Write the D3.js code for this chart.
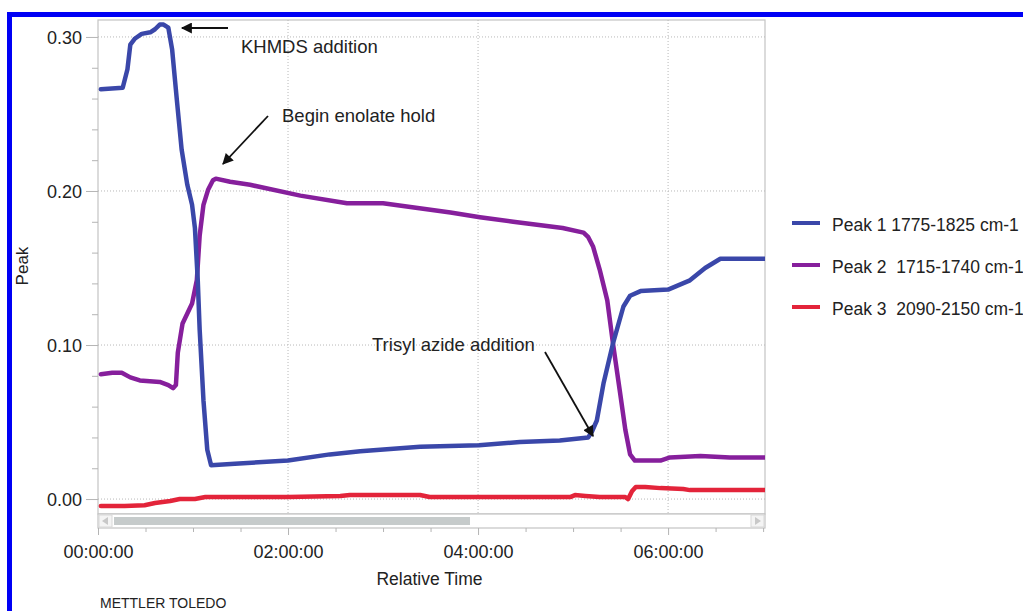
<!DOCTYPE html>
<html>
<head>
<meta charset="utf-8">
<script src="https://cdn.jsdelivr.net/npm/d3@7"></script>
<style>
  body { margin: 0; background: #fff; }
  text { font-family: "Liberation Sans", Arial, sans-serif; fill: #222; }
</style>
</head>
<body>
<div id="chart"></div>
<script>
// Reaction profile values (time in hours, peak height)
var peak1Time = [0.03, 0.26, 0.31, 0.34, 0.39, 0.46, 0.55, 0.60, 0.65, 0.69, 0.74, 0.78, 0.83, 0.88, 0.94, 0.99, 1.02, 1.05, 1.07, 1.11, 1.15, 1.19, 1.44, 2.00, 2.44, 2.76, 3.39, 4.01, 4.44, 4.86, 5.16, 5.20, 5.25, 5.32, 5.42, 5.53, 5.60, 5.71, 6.00, 6.23, 6.39, 6.55, 6.76, 7.02];
var peak1Value = [0.266, 0.267, 0.279, 0.295, 0.299, 0.302, 0.303, 0.305, 0.308, 0.308, 0.306, 0.292, 0.259, 0.227, 0.204, 0.191, 0.176, 0.142, 0.110, 0.064, 0.032, 0.022, 0.023, 0.025, 0.029, 0.031, 0.034, 0.035, 0.037, 0.038, 0.040, 0.044, 0.051, 0.075, 0.101, 0.125, 0.132, 0.135, 0.136, 0.142, 0.150, 0.156, 0.156, 0.156];

var peak2Time = [0.03, 0.15, 0.25, 0.34, 0.44, 0.65, 0.74, 0.79, 0.82, 0.84, 0.89, 0.99, 1.04, 1.07, 1.11, 1.16, 1.21, 1.24, 1.39, 1.60, 2.13, 2.62, 3.00, 3.71, 4.02, 4.37, 4.89, 5.11, 5.16, 5.21, 5.28, 5.36, 5.42, 5.49, 5.55, 5.60, 5.65, 5.92, 6.02, 6.34, 6.65, 7.02];
var peak2Value = [0.081, 0.082, 0.082, 0.079, 0.077, 0.076, 0.074, 0.072, 0.074, 0.095, 0.114, 0.127, 0.142, 0.171, 0.191, 0.201, 0.207, 0.208, 0.206, 0.204, 0.197, 0.192, 0.192, 0.186, 0.183, 0.180, 0.176, 0.173, 0.170, 0.164, 0.149, 0.129, 0.101, 0.071, 0.045, 0.029, 0.025, 0.025, 0.027, 0.028, 0.027, 0.027];

var peak3Time = [0.03, 0.28, 0.49, 0.60, 0.76, 0.86, 1.02, 1.13, 2.00, 2.55, 2.65, 3.39, 3.49, 4.01, 4.97, 5.02, 5.13, 5.28, 5.55, 5.58, 5.62, 5.66, 5.76, 5.92, 6.16, 6.23, 7.02];
var peak3Value = [-0.0045, -0.0045, -0.004, -0.0026, -0.0013, 0.0, 0.0, 0.0013, 0.0013, 0.002, 0.0026, 0.0026, 0.0013, 0.0013, 0.0013, 0.0026, 0.002, 0.0013, 0.0013, 0.0, 0.005, 0.0078, 0.0078, 0.0071, 0.0065, 0.0058, 0.0058];

var seriesNames = ["Peak 1 1775-1825 cm-1", "Peak 2  1715-1740 cm-1", "Peak 3  2090-2150 cm-1"];
var seriesColors = ["#3a47a9", "#861f9c", "#e3243a"];

var yMajorTicks = [0.00, 0.10, 0.20, 0.30];
var xMajorTicks = [0, 2, 4, 6];
var xTickLabels = ["00:00:00", "02:00:00", "04:00:00", "06:00:00"];

var noteLabels = ["KHMDS addition", "Begin enolate hold", "Trisyl azide addition"];


///////////  SVG  ///////////
var svgWidth = 1023;
var svgHeight = 611;

var plot = { left: 98, right: 765, top: 20, bottom: 514 };

var SVG = d3.select("#chart").append("svg")
    .attr("width", svgWidth)
    .attr("height", svgHeight);

// Scales
var xScale = d3.scaleLinear().domain([0, 7.02]).range([plot.left, plot.right]);
var yScale = d3.scaleLinear().domain([-0.0097, 0.311]).range([plot.bottom, plot.top]);

// Plot background + frame
SVG.append("rect")
    .attr("x", plot.left).attr("y", plot.top)
    .attr("width", plot.right - plot.left).attr("height", plot.bottom - plot.top)
    .attr("fill", "#fff").attr("stroke", "#c4c4c4").attr("stroke-width", 1.2);

// Gridlines (dotted)
SVG.append("g").selectAll("line").data(yMajorTicks).enter().append("line")
    .attr("x1", plot.left).attr("x2", plot.right)
    .attr("y1", d => yScale(d)).attr("y2", d => yScale(d))
    .attr("stroke", "#b8b8b8").attr("stroke-dasharray", "1,2");

SVG.append("g").selectAll("line").data(xMajorTicks.slice(1)).enter().append("line")
    .attr("x1", d => xScale(d)).attr("x2", d => xScale(d))
    .attr("y1", plot.top).attr("y2", plot.bottom)
    .attr("stroke", "#b8b8b8").attr("stroke-dasharray", "1,2");

// Y axis: major + minor ticks
var yMinor = d3.range(0.0, 0.311, 0.02).filter(v => Math.abs(v * 10 - Math.round(v * 10)) > 0.01);
var yAxisMinor = SVG.append("g").attr("transform", `translate(${plot.left}, 0)`)
    .call(d3.axisLeft(yScale).tickValues(yMinor).tickSize(6).tickFormat(""));
var yAxis = SVG.append("g").attr("transform", `translate(${plot.left}, 0)`)
    .call(d3.axisLeft(yScale).tickValues(yMajorTicks).tickSize(12).tickPadding(4).tickFormat(d3.format(".2f")));

[yAxis, yAxisMinor].forEach(function(ax) {
    ax.select(".domain").remove();
    ax.selectAll("line").attr("stroke", "#b4b4b4");
});
yAxis.selectAll("text").attr("font-size", 18).attr("fill", "#222")
    .attr("dy", "0.36em").style("font-family", "Liberation Sans, Arial");

// Scroll bar under the plot
var sbTop = 514, sbBottom = 528;
SVG.append("rect").attr("x", plot.left).attr("y", sbTop)
    .attr("width", plot.right - plot.left).attr("height", sbBottom - sbTop)
    .attr("fill", "#fff").attr("stroke", "#c4c4c4").attr("stroke-width", 1.2);
SVG.append("rect").attr("x", plot.left + 1).attr("y", sbTop + 1)
    .attr("width", 13).attr("height", sbBottom - sbTop - 2)
    .attr("fill", "#f4f4f4").attr("stroke", "#d8d8d8");
SVG.append("rect").attr("x", plot.right - 14).attr("y", sbTop + 1)
    .attr("width", 13).attr("height", sbBottom - sbTop - 2)
    .attr("fill", "#f4f4f4").attr("stroke", "#d8d8d8");
SVG.append("path").attr("d", `M${plot.left + 4},${(sbTop + sbBottom) / 2} l6,-4 v8 z`).attr("fill", "#c8c8c8");
SVG.append("path").attr("d", `M${plot.right - 4},${(sbTop + sbBottom) / 2} l-6,-4 v8 z`).attr("fill", "#c8c8c8");
SVG.append("rect").attr("x", 114).attr("y", sbTop + 3)
    .attr("width", 356).attr("height", sbBottom - sbTop - 6)
    .attr("fill", "#c6cbcb");

// X axis below the scroll bar
var xMinor = d3.range(0.5, 7.01, 0.5).filter(v => xMajorTicks.indexOf(v) < 0);
var xAxisMinor = SVG.append("g").attr("transform", `translate(0, ${sbBottom})`)
    .call(d3.axisBottom(xScale).tickValues(xMinor).tickSize(4).tickFormat(""));
var xAxis = SVG.append("g").attr("transform", `translate(0, ${sbBottom})`)
    .call(d3.axisBottom(xScale).tickValues(xMajorTicks).tickSize(7)
        .tickFormat((d, i) => xTickLabels[i]));

[xAxis, xAxisMinor].forEach(function(ax) {
    ax.select(".domain").remove();
    ax.selectAll("line").attr("stroke", "#b4b4b4");
});
xAxis.selectAll("text").attr("font-size", 18).attr("fill", "#222")
    .attr("y", 30).attr("dy", 0).style("font-family", "Liberation Sans, Arial");

// Axis titles
SVG.append("text").attr("x", (plot.left + plot.right) / 2 - 2).attr("y", 585)
    .attr("text-anchor", "middle").attr("font-size", 17.5).text("Relative Time");
SVG.append("text").attr("transform", "translate(28, 266) rotate(-90)")
    .attr("text-anchor", "middle").attr("font-size", 17).text("Peak");

SVG.append("text").attr("x", 100).attr("y", 608)
    .attr("font-size", 14).attr("fill", "#333").text("METTLER TOLEDO");

// Series lines
var lineGen = d3.line().x(d => xScale(d[0])).y(d => yScale(d[1]));

var allSeries = [
    d3.zip(peak3Time, peak3Value),
    d3.zip(peak2Time, peak2Value),
    d3.zip(peak1Time, peak1Value)
];
var drawColors = [seriesColors[2], seriesColors[1], seriesColors[0]];

SVG.append("clipPath").attr("id", "plotClip")
    .append("rect").attr("x", plot.left).attr("y", plot.top)
    .attr("width", plot.right - plot.left).attr("height", plot.bottom - plot.top);

SVG.append("g").attr("clip-path", "url(#plotClip)")
    .selectAll("path").data(allSeries).enter().append("path")
    .attr("d", lineGen)
    .attr("fill", "none")
    .attr("stroke", (d, i) => drawColors[i])
    .attr("stroke-width", 4.5)
    .attr("stroke-linejoin", "round")
    .attr("stroke-linecap", "round");

// Legend
var legend = SVG.append("g");
var legendY = [223, 265, 307];
seriesNames.forEach(function(name, i) {
    legend.append("line").attr("x1", 792).attr("x2", 820)
        .attr("y1", legendY[i]).attr("y2", legendY[i])
        .attr("stroke", seriesColors[i]).attr("stroke-width", 4);
    legend.append("text").attr("x", 832).attr("y", legendY[i] + 8)
        .attr("font-size", 17.5).style("white-space", "pre").text(name);
});

// Annotations with arrows
SVG.append("defs").append("marker")
    .attr("id", "arrowHead").attr("viewBox", "0 0 10 10")
    .attr("refX", 9).attr("refY", 5)
    .attr("markerWidth", 12).attr("markerHeight", 11)
    .attr("markerUnits", "userSpaceOnUse")
    .attr("orient", "auto")
    .append("path").attr("d", "M0,0 L10,5 L0,10 z").attr("fill", "#111");

var notes = [
    { text: noteLabels[0], tx: 241, ty: 53, from: [228, 28], to: [182, 28] },
    { text: noteLabels[1], tx: 282, ty: 122, from: [268, 116], to: [223, 164] },
    { text: noteLabels[2], tx: 372, ty: 351, from: [545, 352], to: [593, 436] }
];
notes.forEach(function(n) {
    SVG.append("line")
        .attr("x1", n.from[0]).attr("y1", n.from[1])
        .attr("x2", n.to[0]).attr("y2", n.to[1])
        .attr("stroke", "#111").attr("stroke-width", 1.8)
        .attr("marker-end", "url(#arrowHead)");
    SVG.append("text").attr("x", n.tx).attr("y", n.ty)
        .attr("font-size", 18.5).text(n.text);
});

// Blue outer frame of the figure
SVG.append("rect").attr("x", 9.5).attr("y", 14.5)
    .attr("width", 1030).attr("height", 620)
    .attr("fill", "none").attr("stroke", "#0000f5").attr("stroke-width", 5);
</script>
</body>
</html>
